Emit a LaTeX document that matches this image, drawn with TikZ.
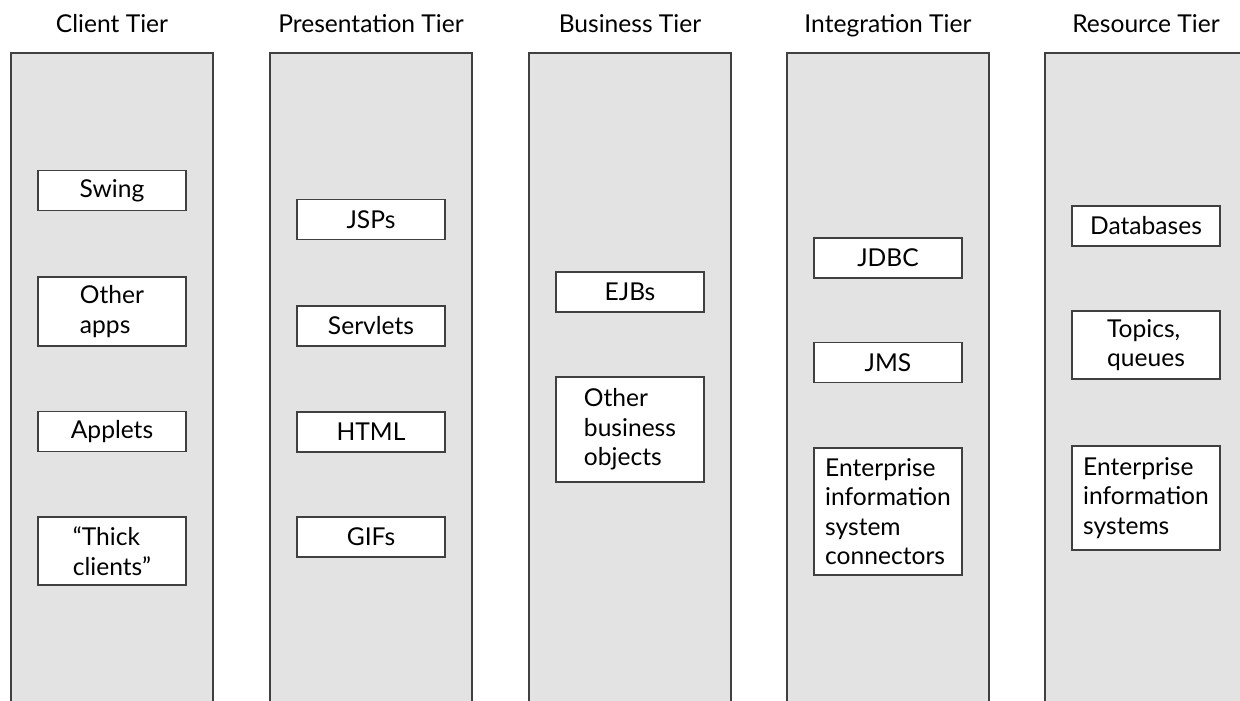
\documentclass[tikz,border=0pt]{standalone}
\usepackage{fontspec}
\setmainfont{Lato}
\usetikzlibrary{positioning}

\begin{document}
\begin{tikzpicture}[x=0.02cm, y=-0.02cm,
    font=\fontsize{14}{16.8}\selectfont,
    tier/.style={draw=black!75, line width=0.9pt, fill=black!11,
                 minimum width=4.04cm, minimum height=13.6cm, anchor=north},
    item/.style={draw=black!75, line width=0.9pt, fill=white,
                 minimum width=2.96cm, minimum height=0.8cm, align=left, inner sep=1pt},
    tiername/.style={anchor=base}]
    \clip (0,0) rectangle (1240,700);

    % the five tiers
    \node[tier] (client) at (112,52) {};
    \node[tier] (pres)   at (371,52) {};
    \node[tier] (busi)   at (630,52) {};
    \node[tier] (integ)  at (888,52) {};
    \node[tier] (res)    at (1146,52) {};

    \node[tiername] (clientT) at (112,32)  {Client Tier};
    \node[tiername] (presT)   at (371,32)  {Presentation Tier};
    \node[tiername] (busiT)   at (630,32)  {Business Tier};
    \node[tiername] (integT)  at (888,32)  {Integration Tier};
    \node[tiername] (resT)    at (1146,32) {Resource Tier};

    % client tier
    \node[item] (swing)     at (112,190.5) {Swing};
    \node[item, minimum height=1.38cm] (otherapps) at (112,311.5) {Other\\apps};
    \node[item] (applets)   at (112,431.5) {Applets};
    \node[item, minimum height=1.36cm] (thick) at (112,551) {“Thick\\clients”};

    % presentation tier
    \node[item] (jsp)      at (371,219.5) {JSPs};
    \node[item] (servlets) at (371,326)   {Servlets};
    \node[item] (html)     at (371,432)   {HTML};
    \node[item] (gifs)     at (371,537)   {GIFs};

    % business tier
    \node[item] (ejb) at (630,292) {EJBs};
    \node[item, minimum height=2.1cm] (bizobj) at (630,429.5) {Other\\business\\objects};

    % integration tier
    \node[item] (jdbc) at (888,258)   {JDBC};
    \node[item] (jms)  at (888,362.5) {JMS};
    \node[item, minimum height=2.54cm] (eisconn) at (888,511.5)
        {Enterprise\\information\\system\\connectors};

    % resource tier
    \node[item] (db) at (1146,226) {Databases};
    \node[item, minimum height=1.36cm] (topics) at (1146,345) {Topics,\\queues};
    \node[item, minimum height=2.08cm] (eis) at (1146,498)
        {Enterprise\\information\\systems};
\end{tikzpicture}
\end{document}
